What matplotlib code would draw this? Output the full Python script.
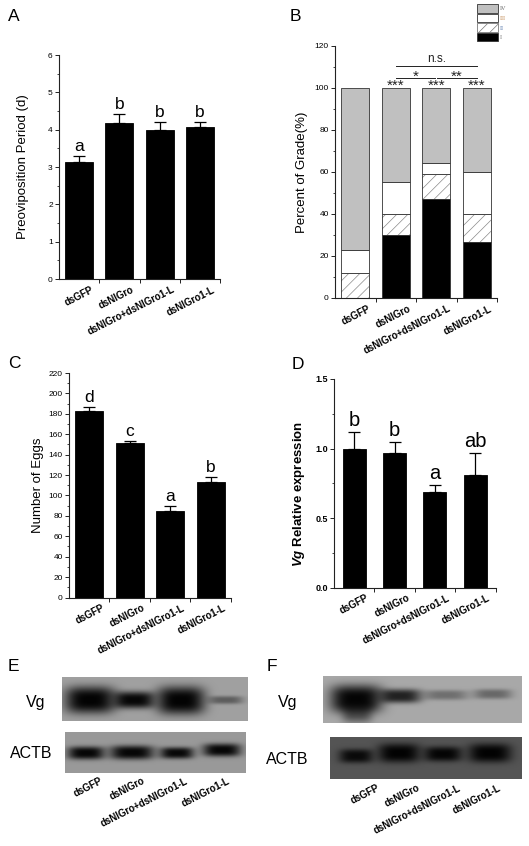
import numpy as np
import matplotlib
matplotlib.use('Agg')
import matplotlib.pyplot as plt
from matplotlib.ticker import MultipleLocator, FormatStrFormatter
from matplotlib.transforms import ScaledTranslation
from matplotlib.patches import Patch

plt.rcParams['font.family'] = ['Liberation Sans', 'DejaVu Sans']
plt.rcParams['hatch.linewidth'] = 0.5
plt.rcParams['mathtext.fontset'] = 'custom'
plt.rcParams['mathtext.bfit'] = 'Liberation Sans:italic:bold'

# ---------------- data ----------------
groups = ['dsGFP', 'dsNlGro', 'dsNlGro+dsNlGro1-L', 'dsNlGro1-L']

preov = [3.14, 4.17, 4.00, 4.08]
preov_err = [0.15, 0.24, 0.20, 0.12]
preov_letters = ['a', 'b', 'b', 'b']

grade_I = [0.0, 30.0, 47.0, 26.6]
grade_II = [11.8, 10.0, 12.0, 13.3]
grade_III = [11.2, 15.0, 5.4, 20.1]
grade_IV = [77.0, 45.0, 35.6, 40.0]
grade_labels = ['I', 'II', 'III', 'IV']

eggs = [183.0, 151.0, 85.0, 113.5]
eggs_err = [3.5, 2.7, 4.2, 4.9]
eggs_letters = ['d', 'c', 'a', 'b']

vg = [1.00, 0.965, 0.69, 0.81]
vg_err = [0.12, 0.08, 0.05, 0.16]
vg_letters = ['b', 'b', 'a', 'ab']

# western blot band estimates (relative intensity per lane)
E_vg_int = [0.98, 0.96, 0.98, 0.42]
E_actb_int = [0.96, 0.96, 0.95, 0.96]
F_vg_int = [0.97, 0.80, 0.34, 0.38]
F_vg_smear = [0.5, 0.0, 0.0, 0.0]
F_actb_int = [0.88, 0.97, 0.94, 0.97]

# ---------------- layout ----------------
W, H = 529, 846
fig = plt.figure(figsize=(W / 100, H / 100), dpi=100)


def add_ax(l, r, t, b):
    return fig.add_axes([l / W, 1 - b / H, (r - l) / W, (b - t) / H])


x = np.arange(1, 5)
BW = 0.7


def style(ax, ymax, major, minor, tick_fs):
    for s in ['top', 'right']:
        ax.spines[s].set_visible(False)
    for s in ['left', 'bottom']:
        ax.spines[s].set_linewidth(0.8)
        ax.spines[s].set_color('#222222')
    ax.set_xlim(0.5, 4.5)
    ax.set_ylim(0, ymax)
    ax.yaxis.set_major_locator(MultipleLocator(major))
    ax.yaxis.set_minor_locator(MultipleLocator(minor))
    ax.tick_params(axis='y', which='major', direction='out', length=3, width=0.7,
                   labelsize=tick_fs, pad=1.5, color='#222222')
    ax.tick_params(axis='y', which='minor', direction='out', length=1.8, width=0.6,
                   color='#222222')
    ax.set_xticks(x)
    ax.set_xticks([1.5, 2.5, 3.5, 4.5], minor=True)
    ax.tick_params(axis='x', which='major', length=0, pad=4)
    ax.tick_params(axis='x', which='minor', direction='out', length=3, width=0.7,
                   color='#222222')
    ax.set_xticklabels(groups, rotation=27, ha='right', va='top',
                       rotation_mode='anchor', fontsize=7, fontweight='bold')
    off = ScaledTranslation(12 / 100, 0, fig.dpi_scale_trans)
    for lab in ax.get_xticklabels():
        lab.set_transform(lab.get_transform() + off)


def bars_with_err(ax, vals, errs, letters, fs, capsize, width):
    ax.bar(x, vals, width, color='black', edgecolor='black', linewidth=0.6, zorder=2)
    ax.errorbar(x, vals, yerr=[np.zeros(4), errs], fmt='none', ecolor='black',
                elinewidth=0.9, capsize=capsize, capthick=0.9, zorder=3)
    for xi, v, e, t in zip(x, vals, errs, letters):
        ax.annotate(t, (xi, v + e), xytext=(0, 1.5), textcoords='offset points',
                    ha='center', va='bottom', fontsize=fs)


# ---- A ----
axA = add_ax(59, 220, 55, 279)
bars_with_err(axA, preov, preov_err, preov_letters, 12.5, 4.5, BW)
style(axA, 6, 1, 0.5, 6)
axA.set_ylabel('Preoviposition Period (d)', fontsize=9.5)
axA.yaxis.set_label_coords(-0.186, 0.5)

# ---- B ----
axB = add_ax(335, 497, 46, 298)
I = np.array(grade_I)
II = np.array(grade_II)
III = np.array(grade_III)
IV = np.array(grade_IV)
edge = '#333333'
axB.bar(x, I, BW, color='black', edgecolor=edge, linewidth=0.6, zorder=2)
axB.bar(x, II, BW, bottom=I, facecolor='white', edgecolor='#8a8a8a', hatch='///',
        linewidth=0, zorder=2)
axB.bar(x, II, BW, bottom=I, fill=False, edgecolor=edge, linewidth=0.6, zorder=2)
axB.bar(x, III, BW, bottom=I + II, facecolor='white', edgecolor=edge, linewidth=0.6, zorder=2)
axB.bar(x, IV, BW, bottom=I + II + III, facecolor='#c0c0c0', edgecolor=edge,
        linewidth=0.6, zorder=2)
style(axB, 120, 20, 10, 6)
axB.set_ylabel('Percent of Grade(%)', fontsize=9.5)
axB.yaxis.set_label_coords(-0.167, 0.5)

sig_c = '#222222'
for xi in x[1:]:
    axB.text(xi, 99.0, '***', ha='center', va='baseline', fontsize=11, color=sig_c)
axB.plot([2, 2.97], [104.9, 104.9], color=sig_c, lw=0.7, clip_on=False)
axB.plot([3.03, 4], [104.9, 104.9], color=sig_c, lw=0.7, clip_on=False)
axB.text(2.5, 103.4, '*', ha='center', va='baseline', fontsize=11, color=sig_c)
axB.text(3.5, 103.4, '**', ha='center', va='baseline', fontsize=11, color=sig_c)
axB.plot([2, 4], [110.3, 110.3], color=sig_c, lw=0.7, clip_on=False)
axB.text(3.0, 112.3, 'n.s.', ha='center', va='baseline', fontsize=8.5, color=sig_c)

handles = [Patch(facecolor='#c0c0c0', edgecolor=edge, linewidth=0.6),
           Patch(facecolor='white', edgecolor=edge, linewidth=0.6),
           Patch(facecolor='white', edgecolor='#777777', hatch='///', linewidth=0.6),
           Patch(facecolor='black', edgecolor=edge, linewidth=0.6)]
leg = fig.legend(handles, grade_labels[::-1], loc='upper left',
                 bbox_to_anchor=(477 / W, 1 - 4 / H), frameon=False,
                 handlelength=3.3, handleheight=1.75, labelspacing=0.15,
                 handletextpad=0.3, borderpad=0, borderaxespad=0,
                 prop={'family': 'Liberation Serif', 'size': 4.5})
for t, c in zip(leg.get_texts(), ['#666666', '#c08850', '#5577aa', '#777777']):
    t.set_color(c)

# ---- C ----
axC = add_ax(69, 231, 373, 597.5)
bars_with_err(axC, eggs, eggs_err, eggs_letters, 12.5, 4.5, BW)
style(axC, 220, 20, 10, 6)
axC.set_ylabel('Number of Eggs', fontsize=9.5)
axC.yaxis.set_label_coords(-0.154, 0.5)

# ---- D ----
axD = add_ax(334, 495.5, 379, 587.5)
bars_with_err(axD, vg, vg_err, vg_letters, 14.5, 4, 0.57)
style(axD, 1.5, 0.5, 0.25, 6.5)
axD.yaxis.set_major_formatter(FormatStrFormatter('%.1f'))
for lab in axD.get_yticklabels():
    lab.set_fontweight('bold')
axD.set_ylabel(r'$\mathbfit{Vg}$ Relative expression', fontsize=9.5, fontweight='bold')
axD.yaxis.set_label_coords(-0.167, 0.448)

# ---------------- blots ----------------
ov = fig.add_axes([0, 0, 1, 1])
ov.set_xlim(0, W)
ov.set_ylim(H, 0)
ov.axis('off')


def blot(box, bg, centers, yc, hw, hh, inten):
    x0, x1, y0, y1 = box
    nx, ny = int((x1 - x0) * 3), int((y1 - y0) * 3)
    X, Y = np.meshgrid(np.linspace(x0, x1, nx), np.linspace(y0, y1, ny))
    keep = np.ones_like(X)
    for c, yy, w, h, a in zip(centers, yc, hw, hh, inten):
        # rounded band: radial super-ellipse falloff
        r = (np.abs((X - c) / w) ** 3.5 + np.abs((Y - yy) / h) ** 3.0)
        d = a * np.exp(-r)
        keep *= (1 - d)
    img = bg * keep
    ov.imshow(img, extent=(x0, x1, y1, y0), cmap='gray', vmin=0, vmax=1,
              interpolation='bilinear', aspect='auto')


# E
blot((62, 248, 677, 721), 0.63, [90, 134, 181, 226], [700, 700, 700.5, 700],
     [25, 21, 24, 17], [13.5, 8.5, 14, 4], E_vg_int)
blot((65, 246, 732, 773), 0.60, [86, 132, 177, 222], [753, 752.5, 753, 750],
     [18.5, 22, 17, 19], [6.5, 7, 5.8, 6.5], E_actb_int)
# F
blot((323, 522, 676, 723), 0.66,
     [356, 400, 446, 493] + [357],
     [699, 696, 695, 694] + [713],
     [26, 21, 22, 19] + [15],
     [14, 7, 5, 5] + [10],
     F_vg_int + [F_vg_smear[0]])
blot((330, 522, 737, 779), 0.33, [356, 399, 443, 490], [756, 753, 754, 753],
     [17, 21, 19, 21.5], [7, 9.5, 7.5, 9.5], F_actb_int)

ov.text(36, 703, 'Vg', ha='center', va='center', fontsize=11.5)
ov.text(31, 753, 'ACTB', ha='center', va='center', fontsize=11.5)
ov.text(288, 703, 'Vg', ha='center', va='center', fontsize=11.5)
ov.text(287, 760, 'ACTB', ha='center', va='center', fontsize=11.5)

for xe, g in zip(np.linspace(100, 227, 4), groups):
    ov.text(xe, 776, g, rotation=27, ha='right', va='top', rotation_mode='anchor',
            fontsize=7, fontweight='bold')
for xf, g in zip(np.linspace(377, 498, 4), groups):
    ov.text(xf, 783, g, rotation=27, ha='right', va='top', rotation_mode='anchor',
            fontsize=7, fontweight='bold')

# panel letters
for t, px, py in [('A', 8, 21), ('B', 290, 21), ('C', 8, 368), ('D', 292, 369),
                  ('E', 8, 671), ('F', 267, 671)]:
    ov.text(px, py, t, ha='left', va='baseline', fontsize=12.5)

fig.savefig('out.png', dpi=100)
